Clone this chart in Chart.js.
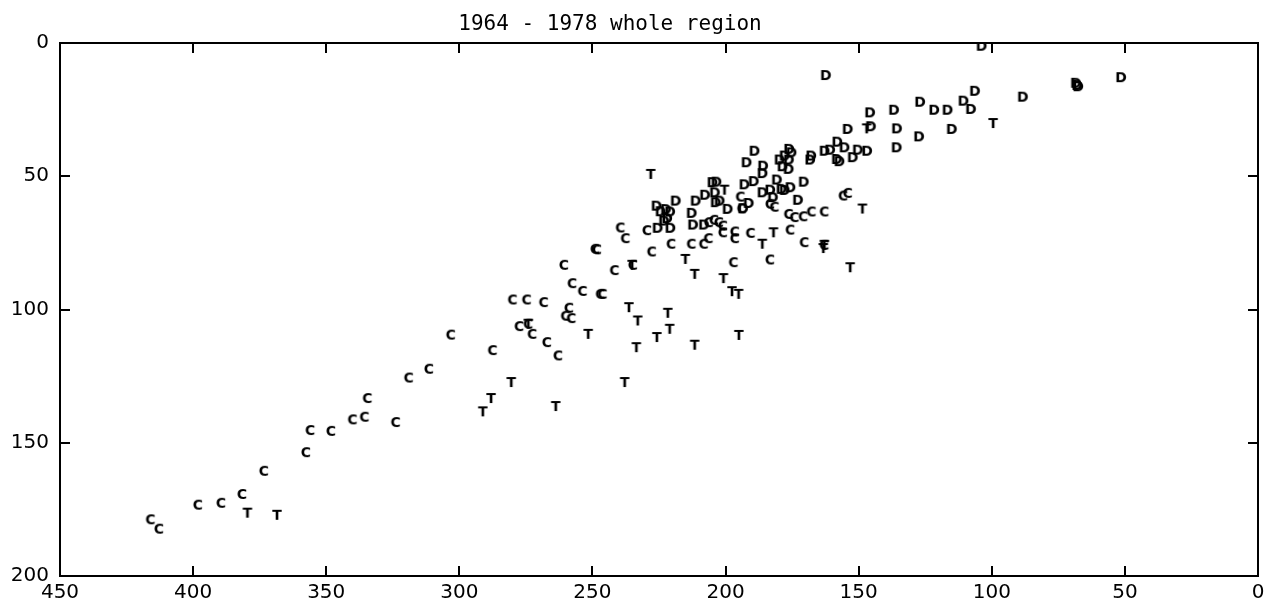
<!DOCTYPE html>
<html>
<head>
<meta charset="utf-8">
<script src="https://cdn.jsdelivr.net/npm/chart.js@4"></script>
<style>
  body { margin: 0; background: #fff; }
  canvas { display: block; }
</style>
</head>
<body>
<canvas id="plot" width="1265" height="601"></canvas>
<script>
/* DATA */
const titleText = "1964 - 1978 whole region";
const xTickValues = [450, 400, 350, 300, 250, 200, 150, 100, 50, 0];
const yTickValues = [0, 50, 100, 150, 200];

// C points
const cX = [416.0, 412.8, 398.2, 389.5, 381.6, 373.4, 357.6, 356.0, 348.2, 340.1, 335.6, 334.5, 323.9, 319.0,
    311.4, 303.2, 287.5, 280.0, 274.7, 268.3, 277.5, 274.1, 272.6, 267.1, 262.9, 260.7, 257.6, 253.7, 258.8,
    260.1, 257.9, 247.0, 246.2, 249.0, 248.3, 241.7, 234.8, 227.7, 220.4, 212.8, 239.5, 237.6, 229.5, 208.2,
    206.4, 206.3, 204.3, 202.5, 201.0, 201.0, 196.5, 196.5, 190.6, 197.0, 194.4, 193.9, 183.3, 181.6, 155.8,
    154.1, 176.3, 174.1, 170.8, 167.7, 162.9, 175.7, 170.4, 183.3, 162.9];
const cY = [179.1, 182.6, 173.6, 172.9, 169.6, 160.9, 153.9, 145.6, 145.9, 141.6, 140.6, 133.6, 142.6, 125.9,
    122.6, 109.8, 115.6, 96.6, 96.6, 97.6, 106.6, 105.7, 109.5, 112.6, 117.6, 83.6, 90.5, 93.4, 99.7,
    102.7, 103.6, 94.5, 94.5, 77.6, 77.8, 85.6, 83.6, 78.6, 75.7, 75.7, 69.6, 73.6, 70.6, 75.7,
    73.6, 67.6, 66.7, 67.6, 68.9, 71.4, 71.1, 73.6, 71.6, 82.6, 58.0, 62.4, 60.7, 61.8, 57.6,
    56.6, 64.5, 65.7, 65.4, 63.6, 63.6, 70.4, 75.1, 81.6, 76.1];

// T points
const tX = [379.6, 368.5, 280.5, 288.1, 291.2, 274.1, 263.8, 251.6, 235.1, 215.1, 211.6, 236.3, 233.0, 233.5,
    221.7, 221.0, 225.8, 211.6, 237.9, 228.1, 200.4, 182.0, 186.2, 162.9, 163.3, 200.8, 197.6, 195.1, 195.0,
    153.2, 148.6, 147.0, 99.5];
const tY = [176.6, 177.4, 127.6, 133.6, 138.6, 105.7, 136.6, 109.5, 83.6, 81.4, 87.0, 99.5, 104.5, 114.5,
    101.6, 107.6, 110.7, 113.6, 127.6, 49.5, 55.4, 71.4, 75.7, 76.1, 77.3, 88.6, 93.5, 94.5, 109.9,
    84.5, 62.5, 32.4, 30.4];

// D points
const dX = [225.6, 220.8, 226.0, 224.5, 222.5, 220.9, 222.0, 223.2, 218.8, 211.3, 212.8, 212.3, 208.2, 207.8,
    204.1, 203.8, 202.3, 205.0, 203.5, 199.3, 193.0, 189.5, 191.4, 192.2, 189.2, 186.0, 186.2, 186.2, 183.3,
    182.3, 180.8, 179.1, 177.9, 175.7, 170.7, 172.9, 176.2, 175.3, 177.9, 179.8, 176.3, 178.7, 176.4, 167.9,
    168.3, 162.9, 160.8, 158.1, 155.4, 158.3, 157.3, 152.3, 150.4, 146.9, 135.8, 154.2, 145.5, 135.7, 127.4,
    115.1, 145.8, 136.8, 127.0, 121.7, 116.7, 110.7, 107.9, 106.4, 103.9, 88.4, 68.0, 68.5, 67.6, 51.5,
    162.4, 193.5];
const dY = [69.7, 69.7, 61.4, 63.5, 62.7, 63.6, 66.1, 67.0, 59.5, 59.5, 64.1, 68.5, 68.5, 57.3,
    56.4, 60.1, 59.5, 52.6, 52.4, 62.6, 53.4, 52.2, 60.4, 45.1, 40.8, 46.4, 49.2, 56.4, 55.4,
    58.2, 51.6, 55.1, 55.5, 54.5, 52.4, 59.2, 40.1, 41.4, 42.6, 44.1, 44.1, 46.6, 47.6, 42.6,
    44.1, 40.8, 40.4, 37.4, 39.5, 43.9, 44.7, 43.2, 40.4, 40.8, 39.5, 32.6, 31.6, 32.4, 35.4,
    32.6, 26.4, 25.4, 22.4, 25.4, 25.4, 22.0, 25.1, 18.3, 1.4, 20.5, 16.1, 15.3, 16.6, 13.2,
    12.4, 62.4];

/* letter markers */
function letterMarker(ch) {
    const c = document.createElement("canvas");
    c.width = 16;
    c.height = 18;
    const g = c.getContext("2d");
    g.fillStyle = "#000";
    g.font = "bold 14px 'DejaVu Sans'";
    g.textAlign = "center";
    g.textBaseline = "middle";
    g.fillText(ch, 8, 9.5);
    return c;
}

const toPoints = (xs, ys) => xs.map((x, i) => ({ x: x, y: ys[i] }));

/* frame, inward ticks and title */
const framePlugin = {
    id: "frame",
    afterDraw(chart) {
        const { ctx, chartArea: a, scales } = chart;
        ctx.save();
        ctx.strokeStyle = "#000";
        ctx.lineWidth = 2;
        ctx.strokeRect(a.left, a.top, a.right - a.left, a.bottom - a.top);
        ctx.beginPath();
        scales.x.ticks.forEach(t => {
            const p = Math.round(scales.x.getPixelForValue(t.value));
            ctx.moveTo(p, a.bottom); ctx.lineTo(p, a.bottom - 10);
            ctx.moveTo(p, a.top); ctx.lineTo(p, a.top + 10);
        });
        scales.y.ticks.forEach(t => {
            const p = Math.round(scales.y.getPixelForValue(t.value));
            ctx.moveTo(a.left, p); ctx.lineTo(a.left + 10, p);
            ctx.moveTo(a.right, p); ctx.lineTo(a.right - 10, p);
        });
        ctx.stroke();

        ctx.fillStyle = "#000";
        ctx.font = "21px 'DejaVu Sans Mono'";
        ctx.textAlign = "center";
        ctx.textBaseline = "middle";
        ctx.fillText(titleText, 610, 25);
        ctx.restore();
    }
};

const tickFont = { family: "'DejaVu Sans'", size: 20 };

new Chart(document.getElementById("plot"), {
    type: "scatter",
    data: {
        datasets: [
            { label: "C", data: toPoints(cX, cY), pointStyle: letterMarker("C") },
            { label: "T", data: toPoints(tX, tY), pointStyle: letterMarker("T") },
            { label: "D", data: toPoints(dX, dY), pointStyle: letterMarker("D") }
        ]
    },
    options: {
        responsive: false,
        animation: false,
        layout: { padding: { top: 43, right: 7, left: 0, bottom: 0 } },
        plugins: {
            legend: { display: false },
            tooltip: { enabled: false },
            title: { display: false }
        },
        scales: {
            x: {
                type: "linear",
                reverse: true,
                min: 0,
                max: 450,
                afterBuildTicks: s => { s.ticks = xTickValues.map(v => ({ value: v })); },
                afterFit: s => { s.height = 25; s.paddingLeft = 0; s.paddingRight = 0; },
                grid: { display: false, drawTicks: false },
                border: { display: false },
                ticks: { color: "#000", font: tickFont, padding: 5, maxRotation: 0 }
            },
            y: {
                type: "linear",
                reverse: true,
                min: 0,
                max: 200,
                afterBuildTicks: s => { s.ticks = yTickValues.map(v => ({ value: v })); },
                afterFit: s => { s.width = 60; s.paddingTop = 0; s.paddingBottom = 0; },
                grid: { display: false, drawTicks: false },
                border: { display: false },
                ticks: { color: "#000", font: tickFont, padding: 11 }
            }
        }
    },
    plugins: [framePlugin]
});
</script>
</body>
</html>
